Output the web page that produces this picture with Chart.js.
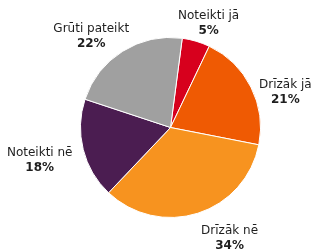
<!DOCTYPE html>
<html>
<head>
<meta charset="utf-8">
<script src="https://cdn.jsdelivr.net/npm/chart.js@4"></script>
<style>
  html, body { margin: 0; padding: 0; background: #fff; }
  #wrap { width: 323px; height: 251px; }
</style>
</head>
<body>
<div id="wrap"><canvas id="pie" width="323" height="251"></canvas></div>
<script>
// answers, clockwise from the top
const answers = ['Noteikti jā', 'Drīzāk jā', 'Drīzāk nē', 'Noteikti nē', 'Grūti pateikt'];
const shares  = [5, 21, 34, 18, 22];
const sliceColors = ['#d7001d', '#ef5a03', '#f7931f', '#4b1d51', '#a0a0a0'];

// Excel nudged a few labels off the mid-angle; small tweaks so they sit where the reference has them
const labelNudge = [[1, 5], [2, 16], [20, 2], [-2, 5], [-6, 5]];

const FONT = '"DejaVu Sans", Verdana, sans-serif';

const outsideLabels = {
  id: 'outsideLabels',
  afterDatasetsDraw(chart) {
    const ctx = chart.ctx;
    const meta = chart.getDatasetMeta(0);
    ctx.save();
    ctx.fillStyle = '#1e1e1e';
    ctx.textAlign = 'center';
    ctx.textBaseline = 'middle';
    meta.data.forEach((arc, i) => {
      const { x, y, startAngle, endAngle, outerRadius } = arc.getProps(['x', 'y', 'startAngle', 'endAngle', 'outerRadius'], true);
      const mid = (startAngle + endAngle) / 2;
      const cos = Math.cos(mid), sin = Math.sin(mid);
      ctx.font = '12px ' + FONT;
      const w = ctx.measureText(answers[i]).width;
      const h = 28;
      const r = outerRadius + 10;
      const cx = x + cos * r + cos * w / 2 + labelNudge[i][0];
      const cy = y + sin * r + sin * h / 2 + labelNudge[i][1];
      ctx.fillText(answers[i], cx, cy - 7);
      ctx.font = 'bold 12px ' + FONT;
      ctx.fillText(shares[i] + '%', cx, cy + 8);
    });
    ctx.restore();
  }
};

new Chart(document.getElementById('pie'), {
  type: 'pie',
  data: {
    labels: answers,
    datasets: [{
      data: shares,
      backgroundColor: sliceColors,
      borderColor: '#ffffff',
      borderWidth: 1,
      hoverOffset: 0,
    }],
  },
  options: {
    responsive: false,
    animation: false,
    rotation: 7.5,
    layout: { padding: { left: 80, right: 62, top: 37, bottom: 33 } },
    plugins: {
      legend: { display: false },
      tooltip: { enabled: false },
    },
  },
  plugins: [outsideLabels],
});
</script>
</body>
</html>
